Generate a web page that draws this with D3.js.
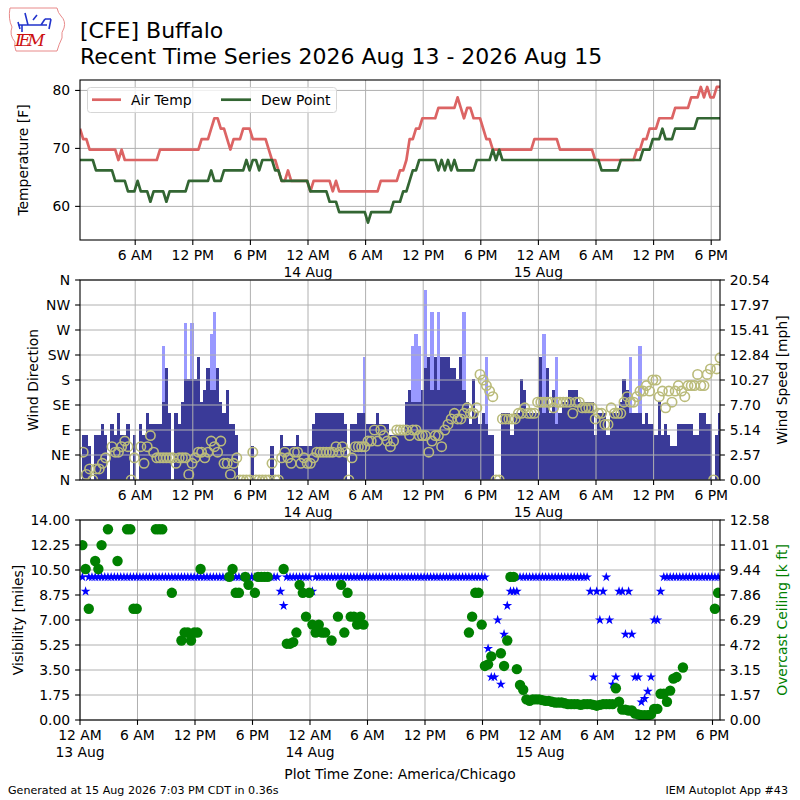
<!DOCTYPE html>
<html><head><meta charset="utf-8">
<script src="https://cdn.jsdelivr.net/npm/d3@7"></script>
<style>body{margin:0;background:#fff}svg{display:block;font-family:"DejaVu Sans",sans-serif}</style>
</head><body><svg id="c" width="800" height="800"></svg>
<script>
// ---------------- DATA ----------------
const titleLine1 = "[CFE] Buffalo";
const titleLine2 = "Recent Time Series 2026 Aug 13 - 2026 Aug 15";
const footerLeft = "Generated at 15 Aug 2026 7:03 PM CDT in 0.36s";
const footerRight = "IEM Autoplot App #43";
const xAxisTitle = "Plot Time Zone: America/Chicago";
const obsStart = "2026-08-13T00:15";   // first observation (20-minute AWOS cadence)
const obsStepMinutes = 20;
const topDomain = ["2026-08-13T00:15", "2026-08-15T18:55"];
const botDomain = ["2026-08-13T00:00", "2026-08-15T18:47"];

const airTemp = [
73.4,71.6,71.6,69.8,69.8,69.8,69.8,69.8,69.8,69.8,
69.8,69.8,68,69.8,68,68,68,68,68,68,
68,68,68,68,68,69.8,69.8,69.8,69.8,69.8,
69.8,69.8,69.8,69.8,69.8,69.8,69.8,69.8,71.6,71.6,
71.6,73.4,75.2,75.2,73.4,73.4,71.6,69.8,71.6,71.6,
71.6,73.4,73.4,73.4,71.6,71.6,71.6,71.6,71.6,69.8,
68,68,66.2,64.4,64.4,66.2,64.4,64.4,64.4,64.4,
64.4,64.4,62.6,64.4,64.4,64.4,64.4,64.4,64.4,62.6,
64.4,62.6,62.6,62.6,62.6,62.6,62.6,62.6,62.6,62.6,
62.6,62.6,62.6,62.6,64.4,64.4,64.4,64.4,64.4,64.4,
66.2,66.2,68,71.6,71.6,73.4,73.4,75.2,75.2,75.2,
75.2,75.2,77,77,77,77,77,77,78.8,77,
75.2,77,77,75.2,75.2,75.2,73.4,71.6,71.6,69.8,
69.8,69.8,69.8,69.8,69.8,69.8,69.8,69.8,69.8,69.8,
69.8,69.8,71.6,71.6,71.6,71.6,71.6,71.6,71.6,71.6,
69.8,69.8,69.8,69.8,69.8,69.8,69.8,69.8,69.8,69.8,
69.8,68,68,68,68,68,68,68,68,68,
68,68,68,68,69.8,69.8,71.6,71.6,73.4,73.4,
73.4,75.2,75.2,75.2,75.2,75.2,77,77,77,77,
77,78.8,78.8,78.8,80.6,78.8,80.6,78.8,78.8,80.6,
80.6];

const dewPoint = [
68,68,68,68,68,66.2,66.2,66.2,66.2,66.2,
66.2,64.4,64.4,64.4,64.4,62.6,62.6,62.6,64.4,62.6,
62.6,62.6,60.8,62.6,62.6,62.6,62.6,60.8,62.6,62.6,
62.6,62.6,62.6,62.6,64.4,64.4,64.4,64.4,64.4,64.4,
64.4,66.2,64.4,64.4,64.4,66.2,66.2,66.2,66.2,66.2,
66.2,66.2,68,66.2,68,68,66.2,68,68,68,
68,66.2,66.2,64.4,64.4,64.4,64.4,64.4,64.4,64.4,
64.4,64.4,62.6,62.6,62.6,62.6,62.6,62.6,60.8,60.8,
60.8,59,59,59,59,59,59,59,59,59,
57.2,59,59,59,59,59,59,59,60.8,60.8,
60.8,62.6,62.6,64.4,66.2,66.2,68,68,68,68,
68,68,66.2,68,66.2,68,66.2,68,66.2,66.2,
66.2,66.2,66.2,66.2,68,68,68,68,68,69.8,
68,69.8,68,68,68,68,68,68,68,68,
68,68,68,68,68,68,68,68,68,68,
68,68,68,68,68,68,68,68,68,68,
68,68,68,66.2,66.2,66.2,66.2,66.2,66.2,68,
68,68,68,68,68,68,69.8,69.8,69.8,71.6,
71.6,71.6,73.4,71.6,71.6,71.6,73.4,73.4,73.4,73.4,
73.4,73.4,73.4,75.2,75.2,75.2,75.2,75.2,75.2,75.2,
75.2];

// wind speed and gust in knots (plotted in mph)
const windSpeedKt = [
null,4,4,3,0,4,4,5,4,0,
5,4,6,4,4,5,0,4,0,5,
4,6,5,5,5,5,7,10,6,0,
6,5,7,9,9,9,9,11,7,8,
10,8,8,10,7,6,8,5,5,4,
0,0,0,0,3,0,0,0,0,0,
3,0,0,4,3,3,3,3,4,3,
3,3,3,5,6,6,6,6,6,6,
6,6,6,5,0,5,5,6,6,6,
5,5,5,6,5,5,5,4,4,4,
4,4,7,8,7,7,7,8,10,11,
8,11,8,11,11,11,10,10,9,11,
8,7,5,9,6,5,6,5,4,4,
0,0,6,6,6,4,6,6,9,8,
6,6,6,6,11,6,10,6,8,5,
6,7,7,8,8,8,7,7,7,7,
7,4,6,6,6,4,6,6,6,7,
9,8,6,6,6,6,5,6,5,5,
4,7,4,5,4,3,3,5,5,5,
5,5,4,4,6,6,5,5,0,4,
6];

const windGustKt = [
null,null,null,null,null,null,null,null,null,null,
null,null,null,null,null,null,null,null,null,null,
null,null,null,null,null,null,12,null,null,null,
null,null,null,14,null,14,null,null,null,null,
null,13,15,null,null,null,null,null,null,null,
null,null,null,null,null,null,null,null,null,null,
null,null,null,null,null,null,null,null,null,null,
null,null,null,null,null,null,null,null,null,null,
null,null,null,null,null,null,null,null,null,11,
null,null,null,null,null,null,null,null,null,null,
null,null,null,null,12,13,12,null,17,null,
15,null,15,null,null,null,null,null,null,null,
15,null,null,null,null,null,null,11,null,null,
null,null,null,null,null,null,null,null,null,null,
null,null,null,null,null,13,null,null,null,11,
null,null,null,null,null,null,null,null,null,null,
null,null,null,null,null,null,null,null,null,null,
null,null,11,null,null,12,null,null,null,null,
null,null,null,null,null,null,null,null,null,null,
null,null,null,null,null,null,null,null,null,null,
null];

const windDirDeg = [
null,50,10,20,0,20,20,30,40,null,
60,50,50,60,70,60,0,40,null,60,
30,60,80,50,40,40,40,40,40,40,
30,40,40,40,10,30,40,50,50,40,
50,70,60,50,70,30,30,10,30,40,
0,0,0,0,50,0,0,0,0,0,
30,0,0,40,50,40,30,50,50,30,
40,30,30,40,50,50,50,50,50,50,
60,50,60,50,0,40,60,60,60,60,
70,70,90,70,90,80,70,60,70,90,
90,90,90,80,90,90,80,80,80,50,
70,80,80,60,90,100,110,120,110,110,
120,130,120,120,130,190,180,170,160,150,
0,0,110,110,110,110,110,120,120,130,
120,120,120,140,140,140,140,140,130,140,
140,140,140,140,120,140,140,130,130,130,
130,110,120,120,100,100,130,120,120,120,
140,150,140,140,150,160,160,170,160,180,
180,150,160,130,160,140,160,170,160,150,
170,170,170,190,170,170,190,200,0,200,
220];

const visibilityMi = [
10,9,10,10,10,10,10,10,10,10,
10,10,10,10,10,10,10,10,10,10,
10,10,10,10,10,10,10,10,10,10,
10,10,10,10,10,10,10,10,10,10,
10,10,10,10,10,10,10,10,10,10,
10,10,10,10,10,10,10,10,10,10,
10,10,9,8,10,10,10,10,10,10,
10,10,9,10,10,10,10,10,10,10,
10,10,10,10,10,10,10,10,10,10,
10,10,10,10,10,10,10,10,10,10,
10,10,10,10,10,10,10,10,10,10,
10,10,10,10,10,10,10,10,10,10,
10,10,10,10,10,10,10,5,3,3,
7,2.5,6,8,9,9,9,10,10,10,
10,10,10,10,10,10,10,10,10,10,
10,10,10,10,10,10,10,10,10,9,
3,9,7,9,10,7,2.5,3,9,9,
6,9,6,3,3,1.25,1.5,2,3,7,
7,9,10,10,10,10,10,10,10,10,
10,10,10,10,10,10,10,10,10,10,
10];

const ceilingKft = [
11,9.5,7,null,10,9.5,11,null,12,null,
null,10,null,null,12,12,7,7,null,null,
null,null,null,12,12,12,null,null,8,null,
null,5,5.5,5.5,5,5.5,5.5,9.5,null,null,
null,null,null,null,null,null,9,9.5,8,8,
null,9,8.5,null,8,9,9,9,9,null,
null,null,null,9.5,4.8,4.8,4.9,5.5,8.5,8,
6.5,8,6,5.5,6,5.5,5.5,null,5,null,
6.5,8.5,5.5,8,6.5,6.5,6,6.5,6,null,
null,null,null,null,null,null,null,null,null,null,
null,null,null,null,null,null,null,null,null,null,
null,null,null,null,null,null,null,null,null,null,
null,5.5,6.5,8,8,6,3.4,3.5,4,null,
null,4.2,3.4,5,9,9,3.2,2.2,1.9,1.3,
1.2,1.3,1.3,1.3,1.25,1.2,1.2,1.15,1.1,1.1,
1.1,1.05,1,1,1,1,0.95,1,1,1,
0.95,0.9,0.95,1,1,1,1,2,1.15,0.65,
0.65,0.6,0.6,0.4,0.35,0.3,0.3,0.3,0.35,0.7,
0.7,1.65,1.65,1.15,1.85,2.6,2.7,null,3.3,null,
null,null,null,null,null,null,null,null,7,8,
null];

const tempTicks = [60, 70, 80];
const tempDomain = [54.2, 81.8];
const dirTicks = [0, 45, 90, 135, 180, 225, 270, 315, 360];
const dirTickLabels = ["N","NE","E","SE","S","SW","W","NW","N"];
const speedMax = 20.54;
const speedTickLabels = ["0.00","2.57","5.14","7.70","10.27","12.84","15.41","17.97","20.54"];
const visTicks = [0, 1.75, 3.5, 5.25, 7, 8.75, 10.5, 12.25, 14];
const visTickLabels = ["0.00","1.75","3.50","5.25","7.00","8.75","10.50","12.25","14.00"];
const ceilMax = 12.58;
const ceilTickLabels = ["0.00","1.57","3.15","4.72","6.29","7.86","9.44","11.01","12.58"];
const KT2MPH = 1.15078;

// ---------------- SETUP ----------------
const svg = d3.select("#c");
const X0 = 80, X1 = 720;
const P = { top:{y0:80,y1:240}, mid:{y0:280,y1:480}, bot:{y0:520,y1:720} };
const GRID = "#b0b0b0", FS = 13.9;
const AIR = "#dc6464", DEW = "#336633", SPD = "#3a3a98", GUST = "#9999ff", DIRC = "#babb7a", VIS = "#0000ff", CEIL = "#008000";

const parseT = d3.utcParse("%Y-%m-%dT%H:%M");
const t0 = parseT(obsStart);
const times = airTemp.map((_, i) => new Date(t0.getTime() + i * obsStepMinutes * 60000));
const half = obsStepMinutes * 30000;

const xTop = d3.scaleUtc().domain(topDomain.map(parseT)).range([X0, X1]);
const xBot = d3.scaleUtc().domain(botDomain.map(parseT)).range([X0, X1]);
const yTemp = d3.scaleLinear().domain(tempDomain).range([P.top.y1, P.top.y0]);
const yDir = d3.scaleLinear().domain([0, 360]).range([P.mid.y1, P.mid.y0]);
const ySpd = d3.scaleLinear().domain([0, speedMax]).range([P.mid.y1, P.mid.y0]);
const yVis = d3.scaleLinear().domain([0, 14]).range([P.bot.y1, P.bot.y0]);
const yCeil = d3.scaleLinear().domain([0, ceilMax]).range([P.bot.y1, P.bot.y0]);

const defs = svg.append("defs");
Object.entries(P).forEach(([k, p]) => {
  defs.append("clipPath").attr("id", "clip-" + k).append("rect")
    .attr("x", X0).attr("y", p.y0).attr("width", X1 - X0).attr("height", p.y1 - p.y0);
});

function xTicksFor(scale) {
  const [a, b] = scale.domain();
  return d3.utcHour.every(6).range(a, new Date(b.getTime() + 1));
}
function tickLines(d) {
  const h = d.getUTCHours();
  if (h === 0) return ["12 AM", d3.utcFormat("%-d %b")(d)];
  if (h === 6) return ["6 AM"];
  if (h === 12) return ["12 PM"];
  return ["6 PM"];
}
function grid(p, xs, xt, yvals, ys) {
  const g = svg.append("g").attr("stroke", GRID).attr("stroke-width", 1);
  xt.forEach(t => g.append("line").attr("x1", xs(t)).attr("x2", xs(t)).attr("y1", p.y0).attr("y2", p.y1));
  yvals.forEach(v => g.append("line").attr("x1", X0).attr("x2", X1).attr("y1", ys(v)).attr("y2", ys(v)));
}
function frame(p, xs, xt) {
  svg.append("rect").attr("x", X0).attr("y", p.y0).attr("width", X1 - X0).attr("height", p.y1 - p.y0)
    .attr("fill", "none").attr("stroke", "#000").attr("stroke-width", 1.1);
  const g = svg.append("g");
  xt.forEach(t => {
    const x = xs(t);
    g.append("line").attr("x1", x).attr("x2", x).attr("y1", p.y1).attr("y2", p.y1 + 4.9).attr("stroke", "#000").attr("stroke-width", 1.1);
    tickLines(t).forEach((s, k) => g.append("text").attr("x", x).attr("y", p.y1 + 20 + k * 16.8)
      .attr("text-anchor", "middle").attr("font-size", FS).text(s));
  });
}
function yAxisLeft(p, ys, vals, labels) {
  const g = svg.append("g");
  vals.forEach((v, k) => {
    const y = ys(v);
    g.append("line").attr("x1", X0 - 4.9).attr("x2", X0).attr("y1", y).attr("y2", y).attr("stroke", "#000").attr("stroke-width", 1.1);
    g.append("text").attr("x", X0 - 9.8).attr("y", y).attr("dy", "0.36em").attr("text-anchor", "end").attr("font-size", FS).text(labels[k]);
  });
}
function yAxisRight(p, ys, vals, labels) {
  const g = svg.append("g");
  vals.forEach((v, k) => {
    const y = ys(v);
    g.append("line").attr("x1", X1).attr("x2", X1 + 4.9).attr("y1", y).attr("y2", y).attr("stroke", "#000").attr("stroke-width", 1.1);
    g.append("text").attr("x", X1 + 9.8).attr("y", y).attr("dy", "0.36em").attr("text-anchor", "start").attr("font-size", FS).text(labels[k]);
  });
}
function yLabel(x, y, s, color) {
  svg.append("text").attr("transform", `translate(${x},${y}) rotate(-90)`).attr("text-anchor", "middle")
    .attr("dominant-baseline", "central").attr("font-size", FS).attr("fill", color || "#000").text(s);
}

// ---------------- HEADER ----------------
const logo = svg.append("g");
logo.append("path").attr("d", "M10,8 L57,8 Q58,13 61,16 Q66,21 64,28 Q61,32 62,38 Q59,44 57,51 L16,51 Q14,46 15,42 Q9,35 12,27 Q8,19 10,8 Z")
  .attr("fill", "none").attr("stroke", "#e88a8a").attr("stroke-width", 1);
logo.append("path").attr("d", "M18,25 L47,25 M22,25 L22,32 M28,25 L25,13 M41,25 L45,19 M45,19 L51,19 M51,19 L49,29 M18,22 L20,29 M33,20 L37,15")
  .attr("fill", "none").attr("stroke", "#2233cc").attr("stroke-width", 1.6);
logo.append("text").attr("x", 15).attr("y", 46).attr("font-family", "DejaVu Serif").attr("font-style", "italic")
  .attr("font-size", 17).attr("fill", "#cc1111").attr("textLength", 30).text("IEM");

svg.append("text").attr("x", 80).attr("y", 37.5).attr("font-size", 22).text(titleLine1);
svg.append("text").attr("x", 80).attr("y", 64).attr("font-size", 22).text(titleLine2);

// ---------------- TOP PANEL ----------------
const xtTop = xTicksFor(xTop);
grid(P.top, xTop, xtTop, tempTicks, yTemp);
const gTop = svg.append("g").attr("clip-path", "url(#clip-top)");
const lineT = d3.line().x((d, i) => xTop(times[i])).y(d => yTemp(d));
gTop.append("path").attr("d", lineT(airTemp)).attr("fill", "none").attr("stroke", AIR).attr("stroke-width", 2.7).attr("stroke-linejoin", "round");
gTop.append("path").attr("d", lineT(dewPoint)).attr("fill", "none").attr("stroke", DEW).attr("stroke-width", 2.7).attr("stroke-linejoin", "round");
frame(P.top, xTop, xtTop);
yAxisLeft(P.top, yTemp, tempTicks, tempTicks.map(String));
yLabel(23, (P.top.y0 + P.top.y1) / 2, "Temperature [F]");
// legend
const leg = svg.append("g");
leg.append("rect").attr("x", 87.5).attr("y", 87.5).attr("width", 249).attr("height", 25).attr("rx", 3)
  .attr("fill", "#fff").attr("fill-opacity", 0.8).attr("stroke", "#d6d6d6");
leg.append("line").attr("x1", 92).attr("x2", 121).attr("y1", 99.7).attr("y2", 99.7).attr("stroke", AIR).attr("stroke-width", 2.7);
leg.append("text").attr("x", 131).attr("y", 104.5).attr("font-size", FS).text("Air Temp");
leg.append("line").attr("x1", 221).attr("x2", 251).attr("y1", 99.7).attr("y2", 99.7).attr("stroke", DEW).attr("stroke-width", 2.7);
leg.append("text").attr("x", 261).attr("y", 104.5).attr("font-size", FS).text("Dew Point");

// ---------------- MIDDLE PANEL ----------------
const gMid = svg.append("g").attr("clip-path", "url(#clip-mid)");
function bars(arr, color) {
  arr.forEach((v, i) => {
    if (v == null || v <= 0) return;
    const xa = xTop(new Date(times[i].getTime() - half)), xb = xTop(new Date(times[i].getTime() + half));
    const y = ySpd(v * KT2MPH);
    gMid.append("rect").attr("x", xa).attr("width", xb - xa).attr("y", y).attr("height", P.mid.y1 - y)
      .attr("fill", color).attr("shape-rendering", "crispEdges");
  });
}
bars(windGustKt, GUST);
bars(windSpeedKt, SPD);
grid(P.mid, xTop, xtTop, dirTicks, yDir);
const gMid2 = svg.append("g").attr("clip-path", "url(#clip-mid)");
windDirDeg.forEach((d, i) => {
  if (d == null) return;
  gMid2.append("circle").attr("cx", xTop(times[i])).attr("cy", yDir(d)).attr("r", 4.7)
    .attr("fill", "none").attr("stroke", DIRC).attr("stroke-width", 1.6);
});
frame(P.mid, xTop, xtTop);
yAxisLeft(P.mid, yDir, dirTicks, dirTickLabels);
yAxisRight(P.mid, ySpd, speedTickLabels.map((_, k) => speedMax * k / 8), speedTickLabels);
yLabel(33, (P.mid.y0 + P.mid.y1) / 2, "Wind Direction");
yLabel(782, (P.mid.y0 + P.mid.y1) / 2, "Wind Speed [mph]");

// ---------------- BOTTOM PANEL ----------------
const xtBot = xTicksFor(xBot);
grid(P.bot, xBot, xtBot, visTicks, yVis);
const gBot = svg.append("g").attr("clip-path", "url(#clip-bot)");
const star = d3.symbol().type(d3.symbolStar).size(30);
visibilityMi.forEach((v, i) => {
  if (v == null) return;
  gBot.append("path").attr("d", star()).attr("transform", `translate(${xBot(times[i])},${yVis(v)})`).attr("fill", VIS);
});
ceilingKft.forEach((c, i) => {
  if (c == null) return;
  gBot.append("circle").attr("cx", xBot(times[i])).attr("cy", yCeil(c)).attr("r", 5.2).attr("fill", CEIL);
});
frame(P.bot, xBot, xtBot);
yAxisLeft(P.bot, yVis, visTicks, visTickLabels);
yAxisRight(P.bot, yCeil, ceilTickLabels.map((_, k) => ceilMax * k / 8), ceilTickLabels);
yLabel(18, (P.bot.y0 + P.bot.y1) / 2, "Visibility [miles]");
yLabel(782, (P.bot.y0 + P.bot.y1) / 2, "Overcast Ceiling [k ft]", CEIL);

svg.append("text").attr("x", 400).attr("y", 778.5).attr("text-anchor", "middle").attr("font-size", FS).text(xAxisTitle);
svg.append("text").attr("x", 8).attr("y", 793.5).attr("font-size", 11.1).text(footerLeft);
svg.append("text").attr("x", 788).attr("y", 793.5).attr("text-anchor", "end").attr("font-size", 11.1).text(footerRight);
</script></body></html>
